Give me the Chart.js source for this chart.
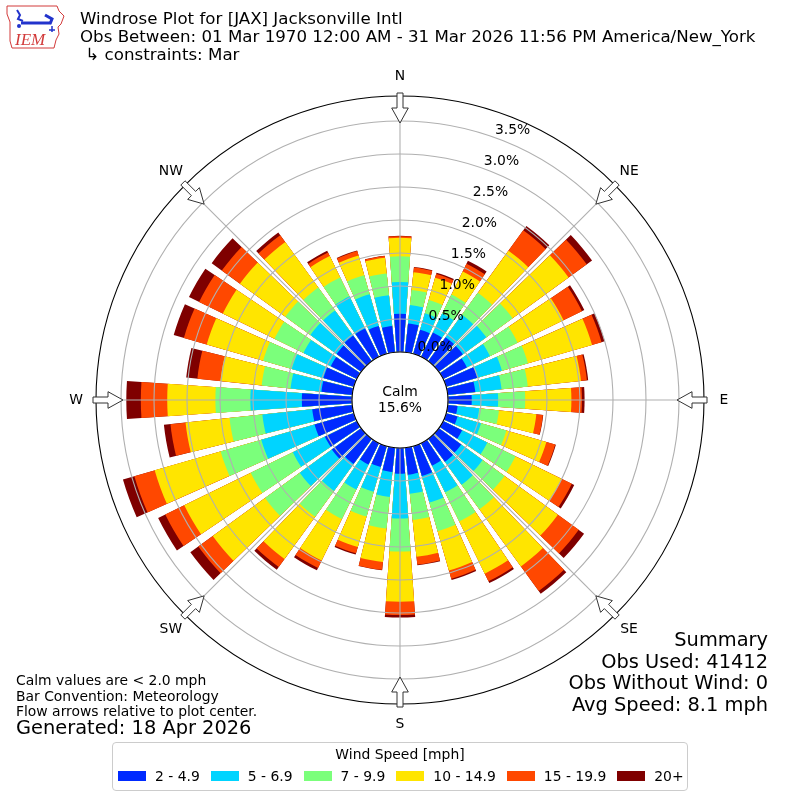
<!DOCTYPE html>
<html>
<head>
<meta charset="utf-8">
<script src="https://cdn.jsdelivr.net/npm/chart.js@4.4.1/dist/chart.umd.min.js"></script>
<style>
  html, body { margin: 0; padding: 0; background: #fff; }
  body { width: 800px; height: 800px; position: relative; overflow: hidden; font-family: "DejaVu Sans", sans-serif; color: #000; }
  #rose { position: absolute; left: 0; top: 0; }
  .logo { position: absolute; left: 5px; top: 4px; }
  .title { position: absolute; left: 80px; top: 10px; font-size: 16.67px; line-height: 18px; white-space: pre; }
  .summary { position: absolute; right: 32px; top: 629px; font-size: 19.4px; line-height: 21.7px; text-align: right; white-space: pre; }
  .notes { position: absolute; left: 16px; top: 673px; font-size: 13.9px; line-height: 15.5px; white-space: pre; }
  .generated { position: absolute; left: 16px; top: 718px; font-size: 19.4px; line-height: 20px; white-space: pre; }
  #legend { position: absolute; left: 112px; top: 742px; width: 576px; height: 49px; box-sizing: border-box;
            border: 1px solid #cccccc; border-radius: 4px; background: rgba(255,255,255,0.8); font-size: 13.9px; }
  #legend .ltitle { text-align: center; line-height: 16px; margin-top: 3px; }
  #legend .row { display: flex; align-items: center; margin-top: 6px; padding-left: 5px; }
  #legend .item { display: flex; align-items: center; margin-right: 11px; }
  #legend .sw { width: 28px; height: 10px; margin-right: 9px; }
  #legend .txt { line-height: 16px; white-space: pre; }
</style>
</head>
<body>
<canvas id="rose" width="800" height="800"></canvas>

<svg class="logo" width="62" height="48" viewBox="0 0 62 48">
  <path d="M2 2 L52 2 L54 7 L59 12 L56 20 L53 23 L54 30 L51 36 L49 44 L7 44 L5 37 L5 18 L2 10 Z" fill="#fff" stroke="#d23a3a" stroke-width="1"/>
  <path d="M12 6 L15 11 L13 15 L18 17" stroke="#2233cc" stroke-width="2" fill="none"/>
  <path d="M16 19 L46 19" stroke="#2233cc" stroke-width="3"/>
  <path d="M40 11 L47 15 L45 20" stroke="#2233cc" stroke-width="3" fill="none"/>
  <circle cx="14" cy="22" r="2" fill="#2233cc"/>
  <path d="M47 22 L47 28 M44 26 L50 26" stroke="#2233cc" stroke-width="1.5"/>
  <text x="10" y="41" font-family="Liberation Serif" font-style="italic" font-size="17" fill="#d23a3a">IEM</text>
</svg>

<div class="title">Windrose Plot for [JAX] Jacksonville Intl
Obs Between: 01 Mar 1970 12:00 AM - 31 Mar 2026 11:56 PM America/New_York
 ↳ constraints: Mar</div>

<div class="summary">Summary
Obs Used: 41412
Obs Without Wind: 0
Avg Speed: 8.1 mph</div>

<div class="notes">Calm values are &lt; 2.0 mph
Bar Convention: Meteorology
Flow arrows relative to plot center.</div>
<div class="generated">Generated: 18 Apr 2026</div>

<div id="legend">
  <div class="ltitle">Wind Speed [mph]</div>
  <div class="row" id="legendRow"></div>
</div>

<script>
// Directions (degrees, meteorological) and speed bins
const DIRECTIONS = [0, 10, 20, 30, 40, 50, 60, 70, 80, 90, 100, 110, 120, 130, 140, 150, 160, 170,
                    180, 190, 200, 210, 220, 230, 240, 250, 260, 270, 280, 290, 300, 310, 320, 330, 340, 350];
const SPEED_BINS = ['2 - 4.9', '5 - 6.9', '7 - 9.9', '10 - 14.9', '15 - 19.9', '20+'];
const BIN_COLORS = ['#002aff', '#00d4ff', '#7bff7b', '#ffe500', '#ff4800', '#7f0000'];

// Percent of observations per direction, one array per speed bin
const PCT_2_5 = [0.58, 0.44, 0.38, 0.41, 0.45, 0.45, 0.40, 0.49, 0.42, 0.36, 0.15, 0.18, 0.32, 0.42, 0.43, 0.38, 0.47, 0.41,
                 0.39, 0.37, 0.33, 0.36, 0.47, 0.55, 0.54, 0.62, 0.61, 0.76, 0.47, 0.48, 0.44, 0.46, 0.48, 0.48, 0.44, 0.40];
const PCT_5_7 = [0.48, 0.28, 0.26, 0.32, 0.42, 0.44, 0.39, 0.39, 0.40, 0.40, 0.33, 0.37, 0.425, 0.40, 0.43, 0.45, 0.42, 0.29,
                 0.68, 0.38, 0.39, 0.42, 0.505, 0.60, 0.54, 0.84, 0.76, 0.78, 0.47, 0.50, 0.46, 0.49, 0.47, 0.54, 0.50, 0.47];
const PCT_7_10 = [0.39, 0.23, 0.21, 0.32, 0.41, 0.49, 0.465, 0.41, 0.40, 0.41, 0.30, 0.40, 0.475, 0.41, 0.46, 0.49, 0.45, 0.40,
                  0.50, 0.48, 0.39, 0.50, 0.485, 0.65, 0.71, 0.64, 0.50, 0.53, 0.44, 0.45, 0.49, 0.47, 0.43, 0.32, 0.30, 0.33];
const PCT_10_15 = [0.28, 0.27, 0.35, 0.39, 0.79, 1.05, 0.775, 1.01, 0.81, 0.70, 0.57, 0.63, 0.78, 1.00, 1.07, 0.88, 0.62, 0.56,
                   0.76, 0.51, 0.48, 0.70, 0.79, 0.98, 1.12, 1.04, 0.67, 0.73, 0.63, 0.89, 0.87, 0.85, 0.85, 0.36, 0.31, 0.24];
const PCT_15_20 = [0.025, 0.07, 0.06, 0.13, 0.38, 0.34, 0.31, 0.15, 0.09, 0.16, 0.10, 0.14, 0.17, 0.39, 0.46, 0.13, 0.13, 0.12,
                   0.20, 0.12, 0.10, 0.125, 0.15, 0.27, 0.32, 0.32, 0.23, 0.40, 0.35, 0.36, 0.40, 0.34, 0.13, 0.06, 0.07, 0.025];
const PCT_20_UP = [0.005, 0.01, 0.02, 0.05, 0.08, 0.10, 0.04, 0.05, 0.02, 0.04, 0.005, 0.01, 0.04, 0.10, 0.05, 0.03, 0.02, 0.01,
                   0.04, 0.005, 0.02, 0.04, 0.05, 0.15, 0.12, 0.18, 0.10, 0.22, 0.17, 0.16, 0.17, 0.19, 0.05, 0.03, 0.01, 0.005];

const TICK_VALUES = [0, 0.5, 1, 1.5, 2, 2.5, 3, 3.5];
const COMPASS = ['N', 'NE', 'E', 'SE', 'S', 'SW', 'W', 'NW'];
const CALM_PCT = 15.6;

// radial axis limits (the calm hole sits below 0 %)
const R_MIN = -0.727;
const R_MAX = 3.879;
const BAR_DEG = 8;
const GAP_DEG = 2;
const FONT = '"DejaVu Sans", sans-serif';

// Legend
function buildLegend() {
  const row = document.getElementById('legendRow');
  SPEED_BINS.forEach((name, i) => {
    const item = document.createElement('div');
    item.className = 'item';
    const sw = document.createElement('div');
    sw.className = 'sw';
    sw.style.background = BIN_COLORS[i];
    const txt = document.createElement('span');
    txt.className = 'txt';
    txt.textContent = name;
    item.appendChild(sw);
    item.appendChild(txt);
    row.appendChild(item);
  });
}

// Stacked bars: every bin is drawn as the running total, smallest on top
function buildData() {
  const labels = [];
  DIRECTIONS.forEach(d => { labels.push(d + '°'); labels.push(''); });
  const bins = [PCT_2_5, PCT_5_7, PCT_7_10, PCT_10_15, PCT_15_20, PCT_20_UP];
  const running = DIRECTIONS.map(() => 0);
  const datasets = bins.map((bin, b) => {
    const data = [];
    bin.forEach((v, i) => {
      running[i] += v;
      data.push(+running[i].toFixed(3));
      data.push(0);
    });
    return {
      label: SPEED_BINS[b],
      data,
      backgroundColor: c => (c.dataIndex % 2 ? 'rgba(0,0,0,0)' : BIN_COLORS[b]),
      angle: c => (c.dataIndex % 2 ? GAP_DEG : BAR_DEG),
      borderWidth: 0
    };
  });
  return { labels, datasets };
}

function drawArrow(ctx, cx, cy, R, deg) {
  const a = deg * Math.PI / 180;
  const ux = Math.sin(a), uy = -Math.cos(a);
  const px = Math.cos(a), py = Math.sin(a);
  const pt = (r, w) => [cx + r * ux + w * px, cy + r * uy + w * py];
  const pts = [pt(R + 3, -3), pt(R - 12, -3), pt(R - 12, -8.3), pt(R - 27, 0),
               pt(R - 12, 8.3), pt(R - 12, 3), pt(R + 3, 3)];
  ctx.beginPath();
  pts.forEach((p, i) => (i ? ctx.lineTo(p[0], p[1]) : ctx.moveTo(p[0], p[1])));
  ctx.closePath();
  ctx.fillStyle = '#ffffff';
  ctx.fill();
  ctx.strokeStyle = '#333333';
  ctx.lineWidth = 1;
  ctx.stroke();
}

const roseDecor = {
  id: 'roseDecor',
  afterDatasetsDraw(chart) {
    const s = chart.scales.r;
    const ctx = chart.ctx;
    const R = s.getDistanceFromCenterForValue(R_MAX);
    ctx.save();
    ctx.strokeStyle = '#b0b0b0';
    ctx.lineWidth = 1.1;
    COMPASS.forEach((c, i) => {
      const a = i * 45 * Math.PI / 180;
      ctx.beginPath();
      ctx.moveTo(s.xCenter, s.yCenter);
      ctx.lineTo(s.xCenter + R * Math.sin(a), s.yCenter - R * Math.cos(a));
      ctx.stroke();
    });
    ctx.restore();
  },
  afterDraw(chart) {
    const s = chart.scales.r;
    const ctx = chart.ctx;
    const cx = s.xCenter, cy = s.yCenter;
    const R = s.getDistanceFromCenterForValue(R_MAX);
    const hole = s.getDistanceFromCenterForValue(0);
    ctx.save();

    // calm circle
    ctx.beginPath();
    ctx.arc(cx, cy, hole, 0, Math.PI * 2);
    ctx.fillStyle = '#ffffff';
    ctx.fill();
    ctx.strokeStyle = '#000000';
    ctx.lineWidth = 1.1;
    ctx.stroke();
    ctx.fillStyle = '#000000';
    ctx.font = '13.9px ' + FONT;
    ctx.textAlign = 'center';
    ctx.textBaseline = 'middle';
    ctx.fillText('Calm', cx, cy - 8);
    ctx.fillText(CALM_PCT.toFixed(1) + '%', cx, cy + 8);

    // radial tick labels
    const la = 19.6 * Math.PI / 180;
    TICK_VALUES.forEach(v => {
      const r = s.getDistanceFromCenterForValue(v);
      ctx.fillText(v.toFixed(1) + '%', cx + r * Math.sin(la) + 19, cy - r * Math.cos(la) - 7);
    });

    // compass labels and flow arrows
    COMPASS.forEach((c, i) => {
      const deg = i * 45;
      const a = deg * Math.PI / 180;
      ctx.fillStyle = '#000000';
      ctx.fillText(c, cx + (R + 20) * Math.sin(a), cy - (R + 20) * Math.cos(a));
      drawArrow(ctx, cx, cy, R, deg);
    });
    ctx.restore();
  }
};

buildLegend();

new Chart(document.getElementById('rose'), {
  type: 'polarArea',
  data: buildData(),
  options: {
    responsive: false,
    devicePixelRatio: 1,
    animation: false,
    events: [],
    layout: { padding: 96 },
    plugins: {
      legend: { display: false },
      tooltip: { enabled: false }
    },
    scales: {
      r: {
        min: R_MIN,
        max: R_MAX,
        startAngle: -BAR_DEG / 2,
        afterBuildTicks: axis => {
          axis.ticks = TICK_VALUES.concat([R_MAX]).map(v => ({ value: v }));
        },
        ticks: { display: false, z: 1 },
        pointLabels: { display: false },
        angleLines: { display: false },
        grid: {
          circular: true,
          z: 1,
          color: c => (c.tick && c.tick.value === R_MAX ? '#000000' : '#b0b0b0'),
          lineWidth: 1.1
        }
      }
    }
  },
  plugins: [roseDecor]
});
</script>
</body>
</html>
